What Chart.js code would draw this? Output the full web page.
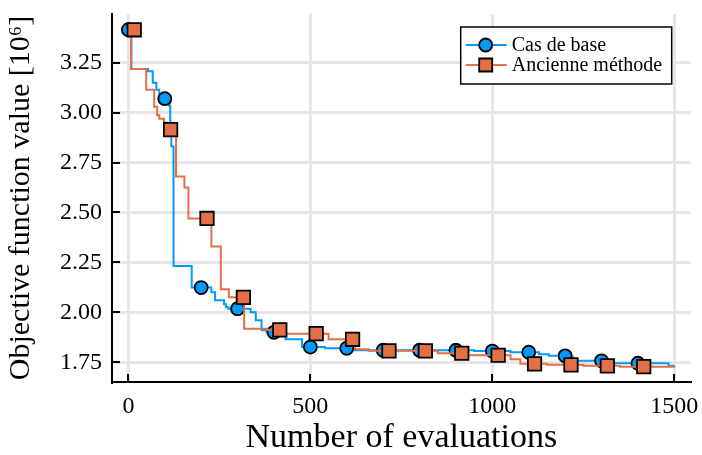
<!DOCTYPE html>
<html>
<head>
<meta charset="utf-8">
<script src="https://cdn.jsdelivr.net/npm/chart.js@4/dist/chart.umd.min.js"></script>
<style>
  body { margin: 0; background: #fff; }
  canvas { display: block; }
</style>
</head>
<body>
<canvas id="grafico" width="702" height="455"></canvas>
<script>
// Courbes en escalier (meilleure valeur trouvée à chaque évaluation)
const baseStepX = [0, 8, 54, 67, 77, 85, 95, 112, 115, 118, 124, 174, 228, 238, 263, 268, 275, 336, 350, 366, 380, 432, 477, 540, 620, 950, 1050, 1128, 1155, 1220, 1320, 1484, 1500];
const baseStepY = [3.415, 3.218, 3.207, 3.15, 3.115, 3.09, 3.07, 3.035, 2.95, 2.83, 2.232, 2.124, 2.10, 2.06, 2.04, 2.025, 2.018, 2.0, 1.96, 1.91, 1.90, 1.865, 1.826, 1.82, 1.81, 1.806, 1.80, 1.79, 1.782, 1.757, 1.745, 1.732, 1.732];

const oldStepX = [0, 8, 49, 71, 79, 85, 98, 105, 131, 154, 165, 228, 254, 276, 318, 382, 432, 550, 623, 660, 850, 930, 1050, 1077, 1150, 1250, 1350, 1500];
const oldStepY = [3.415, 3.218, 3.115, 3.03, 2.987, 2.97, 2.95, 2.915, 2.68, 2.625, 2.47, 2.33, 2.115, 2.075, 1.918, 1.912, 1.893, 1.865, 1.815, 1.807, 1.795, 1.785, 1.765, 1.742, 1.737, 1.732, 1.728, 1.725];

// Marqueurs
const baseMarkX = [0, 100, 200, 300, 400, 500, 600, 700, 800, 900, 1000, 1100, 1200, 1300, 1400];
const baseMarkY = [3.415, 3.07, 2.124, 2.018, 1.90, 1.826, 1.82, 1.81, 1.81, 1.81, 1.806, 1.80, 1.782, 1.757, 1.745];
const oldMarkX = [16, 116, 216, 316, 416, 516, 616, 716, 816, 916, 1016, 1116, 1216, 1316, 1416];
const oldMarkY = [3.415, 2.915, 2.47, 2.075, 1.912, 1.893, 1.865, 1.807, 1.807, 1.795, 1.785, 1.742, 1.737, 1.732, 1.728];

const etiquettes = ["Cas de base", "Ancienne méthode"];
const couleurs = ["#009AFA", "#E26F46"];

const xTicks = [0, 500, 1000, 1500];
const yTicks = [1.75, 2.00, 2.25, 2.50, 2.75, 3.00, 3.25];

const police = "'Liberation Serif', serif";

const pts = (xs, ys) => xs.map((x, i) => ({ x: x, y: ys[i] }));

// petites graduations vers l'intérieur
const graduations = {
    id: 'graduations',
    beforeDatasetsDraw(chart) {
        const { ctx, chartArea, scales } = chart;
        ctx.save();
        ctx.strokeStyle = '#000';
        ctx.lineWidth = 2;
        ctx.beginPath();
        xTicks.forEach(v => {
            const px = Math.round(scales.x.getPixelForValue(v));
            ctx.moveTo(px, chartArea.bottom);
            ctx.lineTo(px, chartArea.bottom - 8);
        });
        yTicks.forEach(v => {
            const py = Math.round(scales.y.getPixelForValue(v));
            ctx.moveTo(chartArea.left, py);
            ctx.lineTo(chartArea.left + 8, py);
        });
        ctx.stroke();
        ctx.restore();
    }
};

// légende ligne + marqueur
const legende = {
    id: 'legende',
    afterDraw(chart) {
        const { ctx, chartArea } = chart;
        const w = 211, h = 57;
        const x0 = chartArea.right - 19 - w;
        const y0 = chartArea.top + 13;
        ctx.save();
        ctx.fillStyle = '#fff';
        ctx.fillRect(x0, y0, w, h);
        ctx.strokeStyle = '#000';
        ctx.lineWidth = 1.5;
        ctx.strokeRect(x0, y0, w, h);
        ctx.font = "20px " + police;
        ctx.textBaseline = 'middle';
        etiquettes.forEach((txt, i) => {
            const y = y0 + 18 + i * 20;
            ctx.strokeStyle = couleurs[i];
            ctx.lineWidth = 2;
            ctx.beginPath();
            ctx.moveTo(x0 + 5, y);
            ctx.lineTo(x0 + 46, y);
            ctx.stroke();
            ctx.fillStyle = couleurs[i];
            ctx.strokeStyle = '#000';
            ctx.lineWidth = 1.8;
            ctx.beginPath();
            if (i === 0) {
                ctx.arc(x0 + 25, y, 6.5, 0, Math.PI * 2);
            } else {
                ctx.rect(x0 + 18.5, y - 6.5, 13, 13);
            }
            ctx.fill();
            ctx.stroke();
            ctx.fillStyle = '#000';
            ctx.fillText(txt, x0 + 51, y + 1);
        });
        ctx.restore();
    }
};

const ctx = document.getElementById('grafico').getContext('2d');

new Chart(ctx, {
    type: 'line',
    data: {
        datasets: [
            {
                data: pts(oldMarkX, oldMarkY),
                showLine: false,
                pointStyle: 'rect',
                pointRadius: 9.5,
                pointBackgroundColor: couleurs[1],
                pointBorderColor: '#000',
                pointBorderWidth: 1.8,
                order: 0
            },
            {
                data: pts(oldStepX, oldStepY),
                stepped: 'before',
                borderColor: couleurs[1],
                borderWidth: 2,
                pointRadius: 0,
                order: 1
            },
            {
                data: pts(baseMarkX, baseMarkY),
                showLine: false,
                pointStyle: 'circle',
                pointRadius: 6.5,
                pointBackgroundColor: couleurs[0],
                pointBorderColor: '#000',
                pointBorderWidth: 1.8,
                order: 2
            },
            {
                data: pts(baseStepX, baseStepY),
                stepped: 'before',
                borderColor: couleurs[0],
                borderWidth: 2,
                pointRadius: 0,
                order: 3
            }
        ]
    },
    options: {
        responsive: false,
        devicePixelRatio: 1,
        animation: false,
        layout: { padding: { top: 14, right: 10, left: 0, bottom: 0 } },
        plugins: {
            legend: { display: false },
            tooltip: { enabled: false }
        },
        scales: {
            x: {
                type: 'linear',
                min: -45,
                max: 1545,
                afterFit: (s) => { s.height = 73; s.paddingLeft = 0; s.paddingRight = 0; },
                afterBuildTicks: (s) => { s.ticks = xTicks.map(v => ({ value: v })); },
                ticks: {
                    color: '#000',
                    font: { family: police, size: 24 },
                    padding: 10,
                    maxRotation: 0,
                    callback: (v) => String(v)
                },
                grid: { color: '#e6e6e6', lineWidth: 3, drawTicks: false },
                border: { color: '#000', width: 2 },
                title: {
                    display: true,
                    text: 'Number of evaluations',
                    color: '#000',
                    font: { family: police, size: 34, lineHeight: 1.0 },
                    padding: { top: 0, bottom: 0 }
                }
            },
            y: {
                min: 1.651,
                max: 3.494,
                afterFit: (s) => { s.width = 112; s.paddingTop = 0; s.paddingBottom = 0; },
                afterBuildTicks: (s) => { s.ticks = yTicks.map(v => ({ value: v })); },
                ticks: {
                    color: '#000',
                    font: { family: police, size: 24 },
                    padding: 10,
                    callback: (v) => v.toFixed(2)
                },
                grid: { color: '#e6e6e6', lineWidth: 3, drawTicks: false },
                border: { color: '#000', width: 2 },
                title: {
                    display: true,
                    text: 'Objective function value [10⁶]',
                    color: '#000',
                    font: { family: police, size: 30 },
                    padding: { top: 3, bottom: 0 }
                }
            }
        }
    },
    plugins: [graduations, legende]
});
</script>
</body>
</html>
